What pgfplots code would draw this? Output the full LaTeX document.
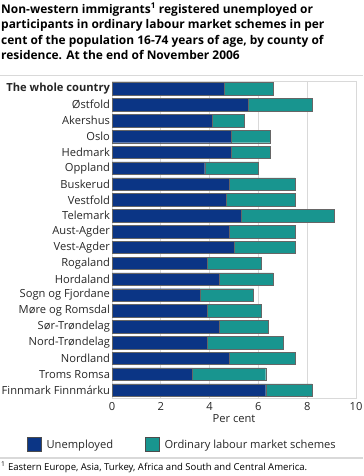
\documentclass[border=0pt]{standalone}
\usepackage{pgfplots}
\pgfplotsset{compat=1.18}
\usepackage{pgfplotstable}
\usepackage{fontspec}
\setmainfont{Open Sans}
\definecolor{unemp}{HTML}{0B3585}
\definecolor{schem}{HTML}{18958F}
\definecolor{gridc}{HTML}{D9D9D9}
\pgfplotstableread{
idx unemp schem
0 4.6 2.0
1 5.6 2.6
2 4.1 1.3
3 4.9 1.6
4 4.9 1.6
5 3.8 2.2
6 4.8 2.7
7 4.7 2.8
8 5.3 3.8
9 4.8 2.7
10 5.0 2.5
11 3.9 2.2
12 4.4 2.2
13 3.6 2.2
14 3.9 2.2
15 4.4 2.0
16 3.9 3.1
17 4.8 2.7
18 3.3 3.0
19 6.3 1.9
}\datatable
\begin{document}
\begin{tikzpicture}[x=1bp,y=1bp]
\useasboundingbox (0,0) rectangle (363,476);
\node[anchor=north west, align=left, font=\bfseries\fontsize{12}{15.5}\selectfont, inner sep=0pt] at (1,473)
{Non-western immigrants\textsuperscript{1} registered unemployed or\\participants in ordinary labour market schemes in per\\cent of the population 16-74 years of age, by county of\\residence. At the end of November 2006};
\draw[gridc, line width=1bp] (0,400) -- (363,400);
\begin{axis}[
  at={(112bp,78bp)}, anchor=south west,
  scale only axis, width=244bp, height=317bp,
  xbar stacked, bar width=12.5bp,
  xmin=0, xmax=10, ymin=-0.5, ymax=19.5,
  y dir=reverse,
  xtick={0,2,...,10},
  ytick={0,...,19},
  yticklabels={\textbf{The whole country},Østfold,Akershus,Oslo,Hedmark,Oppland,Buskerud,Vestfold,Telemark,Aust-Agder,Vest-Agder,Rogaland,Hordaland,Sogn og Fjordane,Møre og Romsdal,Sør-Trøndelag,Nord-Trøndelag,Nordland,Troms Romsa,Finnmark Finnmárku},
  tick style={draw=none},
  xmajorgrids, grid style={gridc, line width=0.8bp},
  axis line style={gridc, line width=0.8bp},
  tick label style={font=\fontsize{11.2}{12}\selectfont, text=black!85},
  /pgf/number format/assume math mode=true,
  xticklabel style={yshift=-1bp},
  yticklabel style={xshift=1.5bp},
  xlabel={Per cent}, xlabel style={font=\fontsize{11.2}{12}\selectfont, text=black!85, yshift=3bp},
  legend columns=2,
  legend style={at={(0.289,-0.147)}, anchor=center, draw=none, fill=none,
    font=\fontsize{11.2}{12}\selectfont, text=black!85,
    /tikz/every odd column/.append style={column sep=3bp},
    /tikz/every even column/.append style={column sep=30bp}},
  legend image code/.code={\draw[#1, draw=black!70] (0bp,-7bp) rectangle (14bp,7bp);},
]
\addplot[fill=unemp, draw=black!60, line width=0.4bp] table[x=unemp, y=idx] {\datatable};
\addplot[fill=schem, draw=black!60, line width=0.4bp] table[x=schem, y=idx] {\datatable};
\legend{Unemployed, Ordinary labour market schemes}
\end{axis}
\draw[gridc, line width=1.2bp] (0,18) -- (363,18);
\node[anchor=west, inner sep=0pt, font=\fontsize{9.6}{10}\selectfont] at (1,9) {\textsuperscript{1} Eastern Europe, Asia, Turkey, Africa and South and Central America.};
\end{tikzpicture}
\end{document}
